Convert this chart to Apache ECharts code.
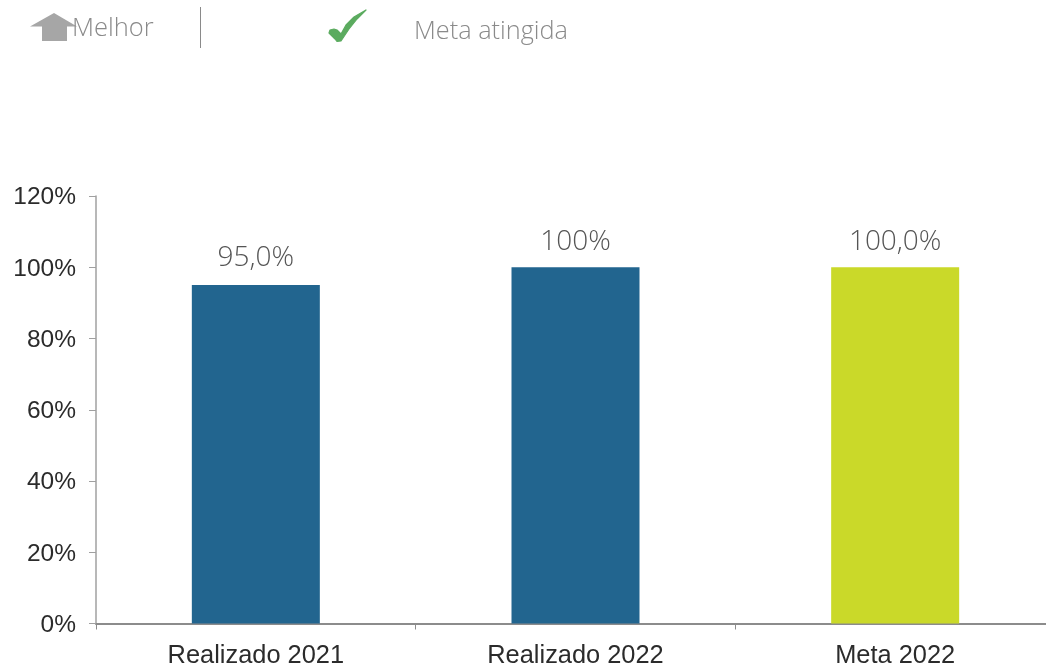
<!DOCTYPE html>
<html><head><meta charset="utf-8">
<style>html,body{margin:0;padding:0;background:#fff;overflow:hidden}#c{width:1046px;height:668px}</style>
<script src="https://cdn.jsdelivr.net/npm/echarts@6/dist/echarts.min.js"></script></head>
<body><div id="c"></div>
<script>
const categories = ['Realizado 2021','Realizado 2022','Meta 2022'];
const values = [95, 100, 100];
const valueLabels = ['95,0%','100%','100,0%'];
const labelGaps = [13,11,11];
const barColors = ['#22658F','#22658F','#CAD929'];
const legendBetter = 'Melhor';
const legendGoal = 'Meta atingida';
const chart = echarts.init(document.getElementById('c'), null, {renderer:'canvas'});
chart.setOption({
  animation:false,
  backgroundColor:'#fff',
  grid:{left:96,width:959,top:196,height:427.5,containLabel:false,outerBoundsMode:'none'},
  xAxis:{type:'category',data:categories,
    axisLine:{lineStyle:{color:'#8c8c8c',width:2}},
    axisTick:{show:true,length:6,lineStyle:{color:'#8c8c8c',width:1}},
    axisLabel:{color:'#2b2b2b',fontFamily:'Liberation Sans',fontSize:25.4,margin:19,lineHeight:26}},
  yAxis:{type:'value',min:0,max:120,interval:20,
    axisLine:{show:true,lineStyle:{color:'#a0a0a0',width:1.5}},
    axisTick:{show:true,length:7,lineStyle:{color:'#a0a0a0',width:1}},
    splitLine:{show:false},
    axisLabel:{color:'#2b2b2b',fontFamily:'Liberation Sans',fontSize:24.5,margin:20,verticalAlign:'top',lineHeight:3,formatter:'{value}%'}},
  series:[{type:'bar',barWidth:128,
    data:values.map((v,i)=>({value:v,itemStyle:{color:barColors[i]},
      label:{formatter:valueLabels[i],distance:labelGaps[i]}})),
    label:{show:true,position:'top',color:'#555',fontFamily:'Open Sans',fontWeight:300,fontSize:28}}],
  graphic:[
    {type:'polygon',shape:{points:[[30,26.5],[54,13],[77,26.5],[67,26.5],[67,41],[42,41],[42,26.5]]},style:{fill:'#a6a6a6'}},
    {type:'text',x:72,y:29,style:{text:legendBetter,fill:'#8a8a8a',font:'300 25.5px "Open Sans"',textVerticalAlign:'middle'}},
    {type:'line',shape:{x1:200.5,y1:7,x2:200.5,y2:48},style:{stroke:'#8a8a8a',lineWidth:1}},
    {type:'polygon',shape:{points:[[329,33],[330,30],[334,29],[337,30],[341,34],[346,25],[354,17],[366,10],[357,19],[349,29],[345,35],[341,41],[337,41.5],[335,39],[332,36]]},style:{fill:'#5BAB5F',stroke:'#5BAB5F',lineWidth:1.2,lineJoin:'round'}},
    {type:'text',x:414,y:32,style:{text:legendGoal,fill:'#8a8a8a',font:'300 25.3px "Open Sans"',textVerticalAlign:'middle'}}
  ]
});
</script></body></html>
